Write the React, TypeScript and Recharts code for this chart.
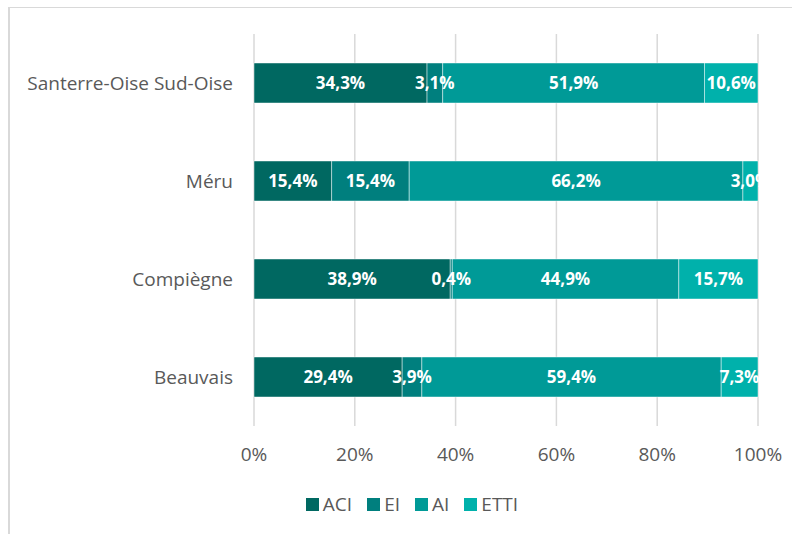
import React from 'react';
import { BarChart, Bar, XAxis, YAxis, CartesianGrid, Legend, LabelList } from 'recharts';

// Répartition par type de SIAE, par bassin (en %)
const territories = ['Santerre-Oise Sud-Oise', 'Méru', 'Compiègne', 'Beauvais'];
const aci = [34.3, 15.4, 38.9, 29.4];
const ei = [3.1, 15.4, 0.4, 3.9];
const ai = [51.9, 66.2, 44.9, 59.4];
const etti = [10.6, 3.0, 15.7, 7.3];
const xTicks = [0, 0.2, 0.4, 0.6, 0.8, 1];

const data = territories.map((name, i) => ({
  name,
  ACI: aci[i],
  EI: ei[i],
  AI: ai[i],
  ETTI: etti[i],
}));

const series = [
  { key: 'ACI', color: '#006861' },
  { key: 'EI', color: '#007F7E' },
  { key: 'AI', color: '#009A97' },
  { key: 'ETTI', color: '#00B1AB' },
];

const FONT = '"Open Sans", "Noto Sans", sans-serif';

const fmtPct = (v: any) => `${Number(v).toFixed(1).replace('.', ',')}%`;

const renderLegend = () => (
  <div style={{ display: 'flex', justifyContent: 'center', gap: 15, fontFamily: FONT, fontSize: 19, lineHeight: '24px', color: '#595959' }}>
    {series.map((s) => (
      <div key={s.key} style={{ display: 'flex', alignItems: 'center', gap: 4 }}>
        <span style={{ width: 13, height: 13, background: s.color, display: 'inline-block' }} />
        <span>{s.key}</span>
      </div>
    ))}
  </div>
);

export default function App() {
  return (
    <div style={{ position: 'fixed', left: 0, top: 0, width: 792, height: 534, background: '#fff', overflow: 'hidden' }}>
      <div
        style={{
          position: 'absolute',
          left: 8,
          top: 7,
          width: 900,
          height: 600,
          borderLeft: '2px solid #d9d9d9',
          borderTop: '1px solid #d9d9d9',
        }}
      />
      <div style={{ position: 'absolute', left: 0, top: 0 }}>
        <BarChart
          width={792}
          height={534}
          data={data}
          layout="vertical"
          stackOffset="expand"
          barSize={40}
          margin={{ top: 34, right: 34, left: 0, bottom: 24 }}
        >
          <CartesianGrid horizontal={false} stroke="#d9d9d9" strokeWidth={1.5} />
          <XAxis
            type="number"
            domain={[0, 1]}
            ticks={xTicks}
            tickFormatter={(v: number) => `${Math.round(v * 100)}%`}
            axisLine={false}
            tickLine={false}
            tickSize={0}
            tickMargin={22}
            height={60}
            tick={{ fill: '#595959', fontSize: 19, fontFamily: FONT }}
          />
          <YAxis
            type="category"
            dataKey="name"
            width={254}
            axisLine={false}
            tickLine={false}
            tickSize={0}
            tickMargin={21}
            tick={{ fill: '#595959', fontSize: 19, fontFamily: FONT }}
          />
          <Legend
            content={renderLegend}
            wrapperStyle={{ left: 16, width: 792, top: 492 }}
          />
          {series.map((s) => (
            <Bar
              key={s.key}
              dataKey={s.key}
              stackId="a"
              fill={s.color}
              stroke="rgba(255,255,255,0.45)"
              strokeWidth={1}
              isAnimationActive={false}
            >
              <LabelList
                dataKey={s.key}
                position="center"
                formatter={fmtPct}
                fill="#ffffff"
                style={{ fontFamily: FONT, fontSize: 17, fontWeight: 700 }}
              />
            </Bar>
          ))}
        </BarChart>
      </div>
    </div>
  );
}
